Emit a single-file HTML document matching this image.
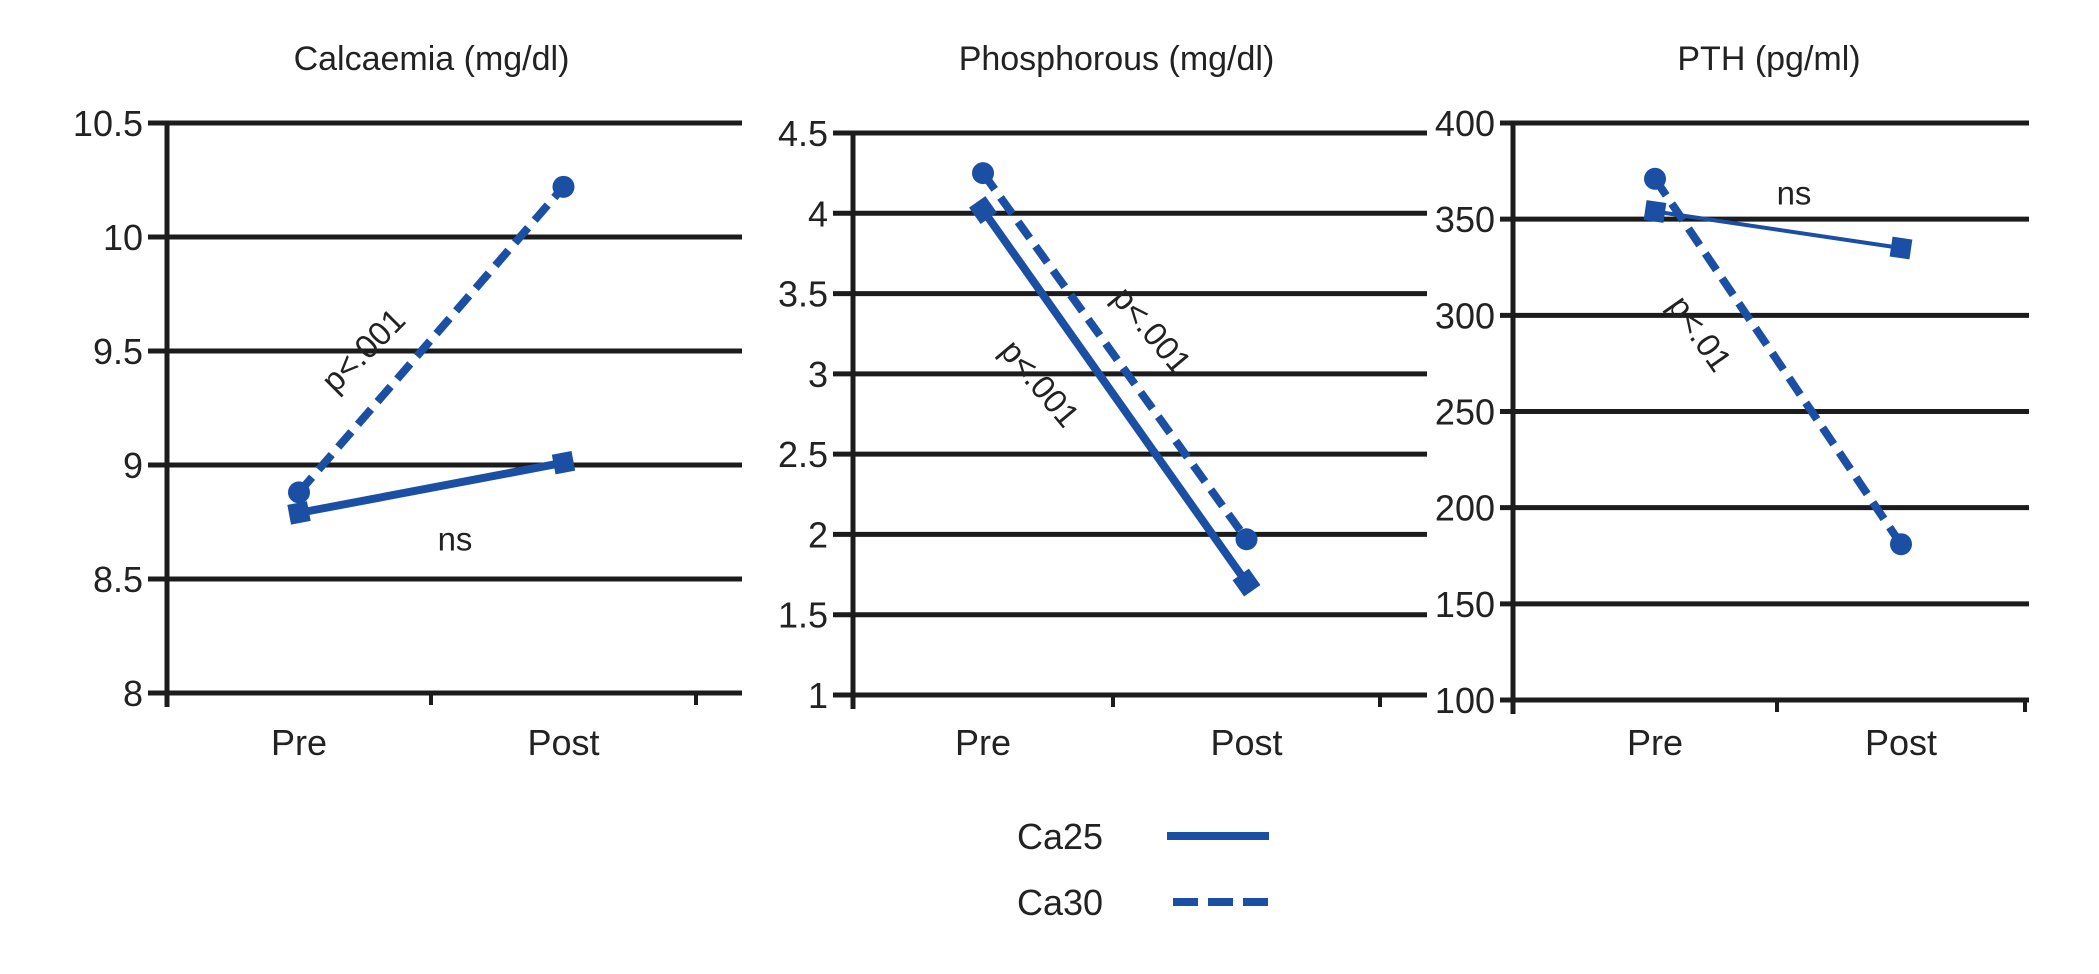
<!DOCTYPE html>
<html><head><meta charset="utf-8"><style>
body{margin:0;background:#fff;}
svg{display:block;font-family:"Liberation Sans",sans-serif;}
</style></head><body>
<svg id="chart" width="2099" height="974" viewBox="0 0 2099 974"></svg>
<script>
const categories = ["Pre","Post"];
const seriesNames = ["Ca25","Ca30"];
const calcCa25 = [8.79, 9.01];
const calcCa30 = [8.88, 10.22];
const phosCa25 = [4.02, 1.70];
const phosCa30 = [4.25, 1.97];
const pthCa25 = [354, 335];
const pthCa30 = [371, 181];
const calcTicks = [8, 8.5, 9, 9.5, 10, 10.5];
const phosTicks = [1, 1.5, 2, 2.5, 3, 3.5, 4, 4.5];
const pthTicks = [100, 150, 200, 250, 300, 350, 400];

const NS = "http://www.w3.org/2000/svg";
const svg = document.getElementById("chart");
const BLUE = "#1a4fa3";
function mk(tag, attrs, parent){const e=document.createElementNS(NS,tag);for(const k in attrs)e.setAttribute(k,attrs[k]);(parent||svg).appendChild(e);return e;}

const panels = [
 {key:"calcaemia", title:"Calcaemia (mg/dl)", ax:167, t1:431, t2:696, gl:148, gr:742, yTop:123, yBot:693, ticks:calcTicks, a:calcCa25, b:calcCa30, w25:8, off:0,
  notes:[{t:"p<.001",x:365,y:352,r:-45},{t:"ns",x:455,y:542,r:0}]},
 {key:"phosphorous", title:"Phosphorous (mg/dl)", ax:853, t1:1113, t2:1380, gl:833, gr:1427, yTop:133, yBot:695, ticks:phosTicks, a:phosCa25, b:phosCa30, w25:8, off:0,
  notes:[{t:"p<.001",x:1038,y:385,r:50},{t:"p<.001",x:1150,y:332,r:50}]},
 {key:"pth", title:"PTH (pg/ml)", ax:1513, t1:1777, t2:2025, gl:1500, gr:2029, yTop:123, yBot:700, ticks:pthTicks, a:pthCa25, b:pthCa30, w25:4, off:10,
  notes:[{t:"ns",x:1794,y:196,r:0},{t:"p<.01",x:1698,y:335,r:55}]}
];

panels.forEach(p=>{
  const g = mk("g",{});
  
  
  const mn = p.ticks[0], mx = p.ticks[p.ticks.length-1];
  const y = v => p.yBot - (v-mn)/(mx-mn)*(p.yBot-p.yTop);
  const xs = [(p.ax+p.t1)/2 + p.off, (p.t1+p.t2)/2];
  const x = i => xs[i];
  const title = mk("text",{x:(p.ax+p.t2)/2, y:70, "font-size":34, "text-anchor":"middle", fill:"#222"}, g);
  title.textContent = p.title;
  
  
  p.ticks.forEach(t=>{
    const gl = mk("line",{x1:p.gl, x2:p.gr, y1:y(t), y2:y(t), stroke:"#1c1c1c", "stroke-width":5}, g);
    
    
    const lb = mk("text",{x:p.gl-5, y:y(t)+13, "font-size":36, "text-anchor":"end", fill:"#222"}, g);
    lb.textContent = t;
    
    
  });
  const axis = mk("line",{x1:p.ax, x2:p.ax, y1:p.yTop, y2:p.yBot+14, stroke:"#1c1c1c", "stroke-width":5}, g);
  
  
  [p.t1,p.t2].forEach(tx=>{
    const tk = mk("line",{x1:tx, x2:tx, y1:p.yBot, y2:p.yBot+12, stroke:"#1c1c1c", "stroke-width":4}, g);
    
    
  });
  categories.forEach((c,i)=>{
    const lb = mk("text",{x:x(i), y:755, "font-size":36, "text-anchor":"middle", fill:"#222"}, g);
    lb.textContent = c;
    
    
  });
  const l30 = mk("line",{x1:x(0), y1:y(p.b[0]), x2:x(1), y2:y(p.b[1]), stroke:BLUE, "stroke-width":8, "stroke-dasharray":"20 10"}, g);
  
  
  const l25 = mk("line",{x1:x(0), y1:y(p.a[0]), x2:x(1), y2:y(p.a[1]), stroke:BLUE, "stroke-width":p.w25}, g);
  
  
  const ang = Math.atan2(y(p.a[1])-y(p.a[0]), x(1)-x(0))*180/Math.PI;
  [0,1].forEach(i=>{
    const c = mk("circle",{cx:x(i), cy:y(p.b[i]), r:11, fill:BLUE}, g);
    
    
    const s = mk("rect",{x:x(i)-10, y:y(p.a[i])-10, width:20, height:20, fill:BLUE, transform:`rotate(${ang} ${x(i)} ${y(p.a[i])})`}, g);
    
    
  });
  p.notes.forEach(n=>{
    const t = mk("text",{x:n.x, y:n.y, "font-size":33, "text-anchor":"middle", "dominant-baseline":"middle", fill:"#222", transform:`rotate(${n.r} ${n.x} ${n.y})`}, g);
    t.textContent = n.t;
    
    
  });
});

const lg = mk("g",{});


seriesNames.forEach((s,i)=>{
  const yy = 836 + i*66;
  const t = mk("text",{x:1017, y:yy+13, "font-size":36, fill:"#222"}, lg);
  t.textContent = s;
  
  
  const l = mk("line",{x1:i?1173:1167, x2:i?1275:1269, y1:yy, y2:yy, stroke:BLUE, "stroke-width":8, "stroke-dasharray": i?"25 10":"none"}, lg);
  
  
});
</script>
</body></html>
